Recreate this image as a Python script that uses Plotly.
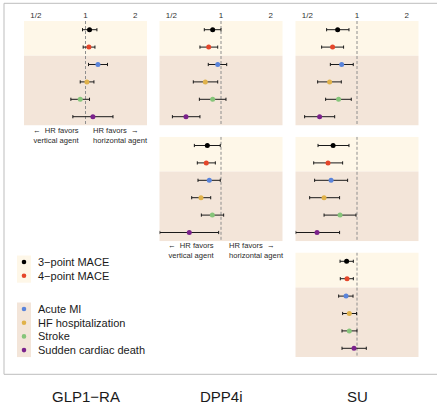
import math
import plotly.graph_objects as go

# ---------------- data ----------------
outcomes = ["3−point MACE", "4−point MACE", "Acute MI",
            "HF hospitalization", "Stroke", "Sudden cardiac death"]
outcome_colors = ["#000000", "#E5462A", "#5A84DB", "#E0B24A", "#86C57A", "#7B228C"]
columns = ["GLP1−RA", "DPP4i", "SU"]
tick_vals = [0.5, 1, 2]
tick_text = ["1/2", "1", "2"]

# panel (row 1, col 1)
p11_hr = [1.058, 1.049, 1.190, 1.020, 0.929, 1.109]
p11_lo = [0.959, 0.968, 1.043, 0.929, 0.815, 0.838]
p11_hi = [1.173, 1.141, 1.360, 1.125, 1.058, 1.468]
# panel (row 1, col 2)
p12_hr = [0.890, 0.842, 0.955, 0.803, 0.890, 0.613]
p12_lo = [0.792, 0.745, 0.837, 0.679, 0.739, 0.507]
p12_hi = [1.000, 0.955, 1.083, 0.955, 1.072, 0.745]
# panel (row 1, col 3)
p13_hr = [0.763, 0.711, 0.807, 0.682, 0.773, 0.593]
p13_lo = [0.654, 0.610, 0.689, 0.577, 0.645, 0.481]
p13_hi = [0.894, 0.829, 0.949, 0.803, 0.923, 0.732]
# panel (row 2, col 2)
p22_hr = [0.826, 0.814, 0.849, 0.756, 0.886, 0.642]
p22_lo = [0.689, 0.718, 0.725, 0.664, 0.760, 0.425]
p22_hi = [0.990, 0.924, 0.990, 0.866, 1.038, 0.968]
# panel (row 2, col 3)
p23_hr = [0.716, 0.667, 0.696, 0.631, 0.789, 0.572]
p23_lo = [0.580, 0.546, 0.553, 0.516, 0.631, 0.425]
p23_hi = [0.894, 0.818, 0.877, 0.784, 0.986, 0.784]
# panel (row 3, col 3)
p33_hr = [0.865, 0.870, 0.858, 0.898, 0.898, 0.959]
p33_lo = [0.789, 0.792, 0.774, 0.818, 0.811, 0.811]
p33_hi = [0.950, 0.950, 0.946, 0.994, 1.000, 1.139]

panels = [
    (0, 0, p11_hr, p11_lo, p11_hi),
    (0, 1, p12_hr, p12_lo, p12_hi),
    (0, 2, p13_hr, p13_lo, p13_hi),
    (1, 1, p22_hr, p22_lo, p22_hi),
    (1, 2, p23_hr, p23_lo, p23_hi),
    (2, 2, p33_hr, p33_lo, p33_hi),
]

# ---------------- layout geometry (pixels) ----------------
W, H = 437, 408
col_x = [(24.0, 147.0), (159.5, 282.5), (295.5, 418.5)]
row_top = [21.0, 136.8, 252.6]
ph = 104.4
half = 1.24 * math.log10(2)
cream = "#FEF7E8"
tan = "#F3E5D9"
FONT = "Liberation Sans, Arial, Helvetica, sans-serif"


def px(x):
    return x / W


def py(y):
    return 1 - y / H


fig = go.Figure()
shapes = []
annotations = []
layout = {}
ypos = list(range(1, len(outcomes) + 1))

for k, (r, c, hr, lo, hi) in enumerate(panels, start=1):
    xa = "xaxis" if k == 1 else f"xaxis{k}"
    ya = "yaxis" if k == 1 else f"yaxis{k}"
    xr = "x" if k == 1 else f"x{k}"
    yr = "y" if k == 1 else f"y{k}"
    x0, x1 = col_x[c]
    t = row_top[r]
    layout[xa] = dict(
        domain=[px(x0), px(x1)], anchor=yr, type="log", range=[-half, half],
        showgrid=False, zeroline=False, showline=False, ticks="",
        side="top", showticklabels=(r == 0),
        tickvals=tick_vals, ticktext=tick_text,
        tickfont=dict(size=8, color="#333333", family=FONT),
        fixedrange=True,
    )
    layout[ya] = dict(
        domain=[py(t + ph), py(t)], anchor=xr, range=[6.5, 0.5],
        showgrid=False, zeroline=False, showline=False, showticklabels=False,
        ticks="", fixedrange=True,
    )
    shapes.append(dict(type="rect", xref=f"{xr} domain", yref=yr, x0=0, x1=1,
                       y0=0.5, y1=2.5, fillcolor=cream, line=dict(width=0),
                       layer="below"))
    shapes.append(dict(type="rect", xref=f"{xr} domain", yref=yr, x0=0, x1=1,
                       y0=2.5, y1=6.5, fillcolor=tan, line=dict(width=0),
                       layer="below"))
    # reference line at HR = 1
    fig.add_trace(go.Scatter(
        x=[1, 1], y=[0.5, 6.5], xaxis=xr, yaxis=yr, mode="lines",
        line=dict(color="#8E8E8E", width=1, dash="3px,2px"),
        showlegend=False, hoverinfo="skip",
    ))
    fig.add_trace(go.Scatter(
        x=hr, y=ypos, xaxis=xr, yaxis=yr, mode="markers",
        marker=dict(size=5, color=outcome_colors, line=dict(width=0)),
        error_x=dict(type="data", symmetric=False,
                     array=[h - v for h, v in zip(hi, hr)],
                     arrayminus=[v - l for v, l in zip(hr, lo)],
                     color="#1A1A1A", thickness=1, width=1.6),
        showlegend=False, hoverinfo="skip",
    ))
    # favour labels under the first two diagonal panels
    if r == c and r < 2:
        cx = (x0 + x1) / 2
        b = t + ph
        fsz = 7.6
        annotations.append(dict(text="←  HR favors<br>vertical agent",
                                x=px(cx - 5), y=py(b + 9.7), xref="paper",
                                yref="paper", xanchor="right", yanchor="middle",
                                align="right", showarrow=False,
                                font=dict(size=fsz, color="#2A2A2A", family=FONT)))
        annotations.append(dict(text="HR favors  →<br>horizontal agent",
                                x=px(cx + 5.5), y=py(b + 9.7), xref="paper",
                                yref="paper", xanchor="left", yanchor="middle",
                                align="left", showarrow=False,
                                font=dict(size=fsz, color="#2A2A2A", family=FONT)))

# column labels
for c, name in enumerate(columns):
    cx = (col_x[c][0] + col_x[c][1]) / 2
    annotations.append(dict(text=name, x=px(cx), y=py(396), xref="paper", yref="paper",
                            xanchor="center", yanchor="middle", showarrow=False,
                            font=dict(size=15, color="#1A1A1A", family=FONT)))

# outer frame
shapes.append(dict(type="rect", xref="paper", yref="paper",
                   x0=px(4), x1=px(445), y0=py(374.3), y1=py(3.3),
                   line=dict(color="#BDBDBD", width=1), fillcolor="rgba(0,0,0,0)",
                   layer="below"))

# legend (manual)
leg_marker_x = 24
leg_text_x = 36
step = 13.7
group_starts = [262.0, 309.0]
groups = [[0, 1], [2, 3, 4, 5]]
group_fill = [cream, tan]
for g, idxs in enumerate(groups):
    y_first = group_starts[g]
    y_last = y_first + step * (len(idxs) - 1)
    shapes.append(dict(type="rect", xref="paper", yref="paper",
                       x0=px(17), x1=px(31), y0=py(y_last + 7), y1=py(y_first - 6.5),
                       fillcolor=group_fill[g], line=dict(width=0), layer="below"))
    for j, i in enumerate(idxs):
        yy = y_first + step * j
        rr = 2.3
        shapes.append(dict(type="circle", xref="paper", yref="paper",
                           x0=px(leg_marker_x - rr), x1=px(leg_marker_x + rr),
                           y0=py(yy + rr), y1=py(yy - rr),
                           fillcolor=outcome_colors[i], line=dict(width=0)))
        annotations.append(dict(text=outcomes[i], x=px(leg_text_x), y=py(yy),
                                xref="paper", yref="paper", xanchor="left",
                                yanchor="middle", showarrow=False,
                                font=dict(size=11, color="#1A1A1A", family=FONT)))

fig.update_layout(
    width=W, height=H,
    margin=dict(l=0, r=0, t=0, b=0, pad=0),
    paper_bgcolor="white", plot_bgcolor="rgba(0,0,0,0)",
    shapes=shapes, annotations=annotations, showlegend=False,
    font=dict(family=FONT),
    **layout,
)

fig.write_html("out.html", config={"displayModeBar": False},
               post_script="document.body.style.margin='0';document.body.style.padding='0';")
